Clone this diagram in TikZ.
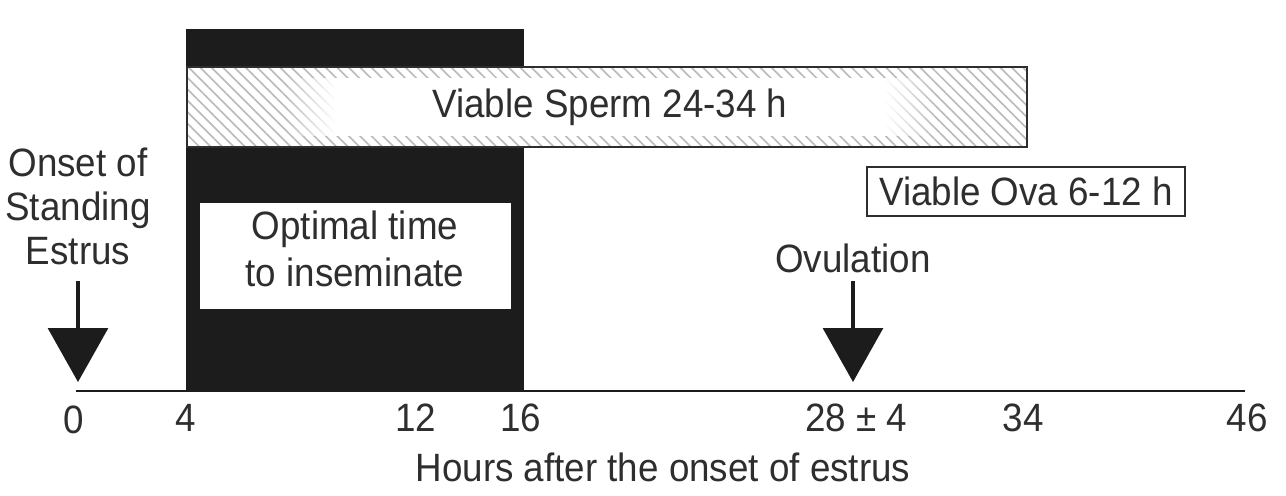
\documentclass[tikz,border=0pt]{standalone}
\usepackage{fontspec}
\setmainfont{Liberation Sans}[FakeStretch=0.93]
\usetikzlibrary{arrows.meta,patterns.meta,fadings}
\definecolor{ink}{HTML}{2E2E2E}
\definecolor{blk}{HTML}{1C1C1C}
\tikzset{
  lbl/.style={font=\fontsize{22.5}{26}\selectfont, text=ink, inner sep=0pt, align=center},
  bigarrow/.style={draw=blk, line width=1.8pt, -{Triangle[width=1.2cm,length=1.08cm]}},
  boxline/.style={draw=ink, line width=1.2pt},
}
\begin{document}
\begin{tikzpicture}[x=0.02cm,y=-0.02cm]
\useasboundingbox (0,0) rectangle (1286,496);
% black inseminate block
\fill[blk] (186,29) rectangle (524,392);
% hatched sperm bar
\fill[white] (187,67) rectangle (1027,147);
\fill[pattern={Lines[angle=-45,distance=4.6pt,line width=0.9pt]}, pattern color=gray!55] (187,67) rectangle (1027,147);
\fill[white] (335,78) rectangle (885,136);
\fill[white, path fading=west] (285,78) rectangle (336,136);
\fill[white, path fading=east] (884,78) rectangle (935,136);
\draw[boxline] (187,67) rectangle (1027,147);
\node[lbl] (sperm) at (610,107) {Viable Sperm 24-34 h};
% ova box
\node[lbl, boxline, fill=white, minimum width=318*0.02cm, minimum height=49*0.02cm] (ova) at (1026,191.5) {Viable Ova 6-12 h};
% optimal box
\fill[white] (200,203) rectangle (511,309);
\node[lbl] (opt) at (355,249) {Optimal time\\[1pt]to inseminate};
% axis
\coordinate (ax0) at (76,391);
\coordinate (ax1) at (1245,391);
\draw[blk, line width=1.7pt] (ax0) -- (ax1);
% onset label and arrow
\node[lbl] (onset) at (78,206) {Onset of\\[-1pt]Standing\\[-1pt]Estrus};
\coordinate (a0top) at (78,281);
\coordinate (a0tip) at (78,382);
\draw[bigarrow] (a0top) -- (a0tip);
% ovulation
\node[lbl] (ovul) at (853,258) {Ovulation};
\coordinate (a1top) at (853,281);
\coordinate (a1tip) at (853,382);
\draw[bigarrow] (a1top) -- (a1tip);
% tick labels
\node[lbl] (t0) at (74,420) {0};
\node[lbl] (t4) at (186,418) {4};
\node[lbl] (t12) at (416,418) {12};
\node[lbl] (t16) at (521,418) {16};
\node[lbl] (t28) at (856,418) {28 ± 4};
\node[lbl] (t34) at (1023,418) {34};
\node[lbl] (t46) at (1247,418) {46};
\node[lbl] (xlab) at (663,467) {Hours after the onset of estrus};
\end{tikzpicture}
\end{document}
